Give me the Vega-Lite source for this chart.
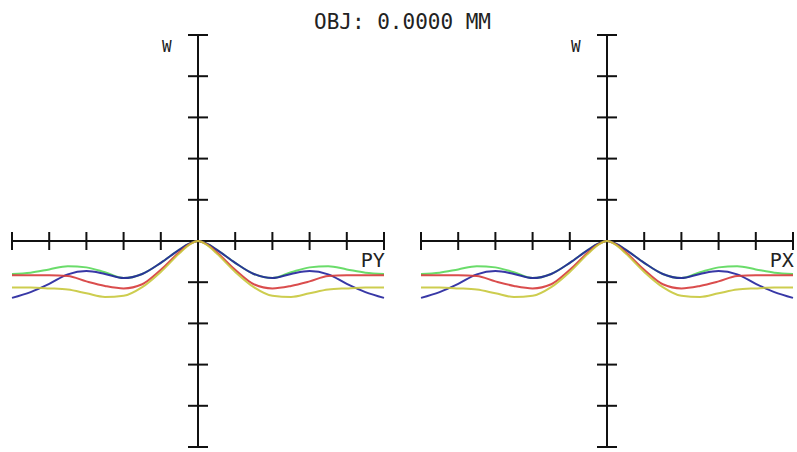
{
  "$schema": "https://vega.github.io/schema/vega-lite/v6.json",
  "autosize": {"type": "pad"},
  "padding": {"left": 8, "top": 12, "right": 0, "bottom": 0},
  "background": "white",
  "title": {"text": "OBJ: 0.0000 MM", "font": "DejaVu Sans Mono", "fontSize": 21, "fontWeight": "normal", "color": "#222222", "anchor": "middle", "offset": 1},
  "config": {"view": {"stroke": null}, "concat": {"spacing": 29}},
  "datasets": {
    "fan": [
      {"p": -1.0, "w": -0.80, "c": "g"}, {"p": -0.9, "w": -0.77, "c": "g"}, {"p": -0.8, "w": -0.69, "c": "g"}, {"p": -0.7, "w": -0.61, "c": "g"}, {"p": -0.6, "w": -0.64, "c": "g"}, {"p": -0.5, "w": -0.76, "c": "g"}, {"p": -0.4, "w": -0.90, "c": "g"}, {"p": -0.3, "w": -0.80, "c": "g"}, {"p": -0.2, "w": -0.53, "c": "g"}, {"p": -0.1, "w": -0.21, "c": "g"}, {"p": -0.05, "w": -0.07, "c": "g"}, {"p": 0.0, "w": 0.0, "c": "g"}, {"p": 0.05, "w": -0.07, "c": "g"}, {"p": 0.1, "w": -0.21, "c": "g"}, {"p": 0.2, "w": -0.53, "c": "g"}, {"p": 0.3, "w": -0.80, "c": "g"}, {"p": 0.4, "w": -0.90, "c": "g"}, {"p": 0.5, "w": -0.76, "c": "g"}, {"p": 0.6, "w": -0.64, "c": "g"}, {"p": 0.7, "w": -0.61, "c": "g"}, {"p": 0.8, "w": -0.69, "c": "g"}, {"p": 0.9, "w": -0.77, "c": "g"}, {"p": 1.0, "w": -0.80, "c": "g"},
      {"p": -1.0, "w": -1.38, "c": "b"}, {"p": -0.9, "w": -1.24, "c": "b"}, {"p": -0.8, "w": -1.04, "c": "b"}, {"p": -0.7, "w": -0.81, "c": "b"}, {"p": -0.6, "w": -0.73, "c": "b"}, {"p": -0.5, "w": -0.80, "c": "b"}, {"p": -0.4, "w": -0.90, "c": "b"}, {"p": -0.3, "w": -0.80, "c": "b"}, {"p": -0.2, "w": -0.53, "c": "b"}, {"p": -0.1, "w": -0.21, "c": "b"}, {"p": -0.05, "w": -0.07, "c": "b"}, {"p": 0.0, "w": 0.0, "c": "b"}, {"p": 0.05, "w": -0.07, "c": "b"}, {"p": 0.1, "w": -0.21, "c": "b"}, {"p": 0.2, "w": -0.53, "c": "b"}, {"p": 0.3, "w": -0.80, "c": "b"}, {"p": 0.4, "w": -0.90, "c": "b"}, {"p": 0.5, "w": -0.80, "c": "b"}, {"p": 0.6, "w": -0.73, "c": "b"}, {"p": 0.7, "w": -0.81, "c": "b"}, {"p": 0.8, "w": -1.04, "c": "b"}, {"p": 0.9, "w": -1.24, "c": "b"}, {"p": 1.0, "w": -1.38, "c": "b"},
      {"p": -1.0, "w": -0.83, "c": "r"}, {"p": -0.9, "w": -0.83, "c": "r"}, {"p": -0.8, "w": -0.83, "c": "r"}, {"p": -0.7, "w": -0.85, "c": "r"}, {"p": -0.6, "w": -0.98, "c": "r"}, {"p": -0.5, "w": -1.09, "c": "r"}, {"p": -0.4, "w": -1.15, "c": "r"}, {"p": -0.3, "w": -1.05, "c": "r"}, {"p": -0.2, "w": -0.70, "c": "r"}, {"p": -0.1, "w": -0.27, "c": "r"}, {"p": -0.05, "w": -0.09, "c": "r"}, {"p": 0.0, "w": 0.0, "c": "r"}, {"p": 0.05, "w": -0.09, "c": "r"}, {"p": 0.1, "w": -0.27, "c": "r"}, {"p": 0.2, "w": -0.70, "c": "r"}, {"p": 0.3, "w": -1.05, "c": "r"}, {"p": 0.4, "w": -1.15, "c": "r"}, {"p": 0.5, "w": -1.09, "c": "r"}, {"p": 0.6, "w": -0.98, "c": "r"}, {"p": 0.7, "w": -0.85, "c": "r"}, {"p": 0.8, "w": -0.83, "c": "r"}, {"p": 0.9, "w": -0.83, "c": "r"}, {"p": 1.0, "w": -0.83, "c": "r"},
      {"p": -1.0, "w": -1.13, "c": "y"}, {"p": -0.9, "w": -1.13, "c": "y"}, {"p": -0.8, "w": -1.15, "c": "y"}, {"p": -0.7, "w": -1.18, "c": "y"}, {"p": -0.6, "w": -1.27, "c": "y"}, {"p": -0.5, "w": -1.36, "c": "y"}, {"p": -0.4, "w": -1.33, "c": "y"}, {"p": -0.3, "w": -1.12, "c": "y"}, {"p": -0.2, "w": -0.75, "c": "y"}, {"p": -0.1, "w": -0.30, "c": "y"}, {"p": -0.05, "w": -0.10, "c": "y"}, {"p": 0.0, "w": 0.0, "c": "y"}, {"p": 0.05, "w": -0.10, "c": "y"}, {"p": 0.1, "w": -0.30, "c": "y"}, {"p": 0.2, "w": -0.75, "c": "y"}, {"p": 0.3, "w": -1.12, "c": "y"}, {"p": 0.4, "w": -1.33, "c": "y"}, {"p": 0.5, "w": -1.36, "c": "y"}, {"p": 0.6, "w": -1.27, "c": "y"}, {"p": 0.7, "w": -1.18, "c": "y"}, {"p": 0.8, "w": -1.15, "c": "y"}, {"p": 0.9, "w": -1.13, "c": "y"}, {"p": 1.0, "w": -1.13, "c": "y"}
    ],
    "xticks": [
      {"p": -1.0, "w": 0}, {"p": -0.8, "w": 0}, {"p": -0.6, "w": 0}, {"p": -0.4, "w": 0}, {"p": -0.2, "w": 0}, {"p": 0.0, "w": 0}, {"p": 0.2, "w": 0}, {"p": 0.4, "w": 0}, {"p": 0.6, "w": 0}, {"p": 0.8, "w": 0}, {"p": 1.0, "w": 0}
    ],
    "yticks": [
      {"p": 0, "w": -5}, {"p": 0, "w": -4}, {"p": 0, "w": -3}, {"p": 0, "w": -2}, {"p": 0, "w": -1}, {"p": 0, "w": 0}, {"p": 0, "w": 1}, {"p": 0, "w": 2}, {"p": 0, "w": 3}, {"p": 0, "w": 4}, {"p": 0, "w": 5}
    ],
    "axes": [
      {"p": -1, "p2": 1, "w": 0, "w2": 0},
      {"p": 0, "p2": 0, "w": -5, "w2": 5}
    ]
  },
  "hconcat": [
    {
      "width": 372, "height": 412,
      "encoding": {
        "x": {"field": "p", "type": "quantitative", "scale": {"domain": [-1, 1], "nice": false, "zero": false}, "axis": null},
        "y": {"field": "w", "type": "quantitative", "scale": {"domain": [-5, 5], "nice": false, "zero": false}, "axis": null}
      },
      "layer": [
        {"data": {"name": "axes"}, "mark": {"type": "rule", "color": "#111111", "strokeWidth": 2}, "encoding": {"x2": {"field": "p2"}, "y2": {"field": "w2"}}},
        {"data": {"name": "xticks"}, "mark": {"type": "tick", "orient": "vertical", "size": 18, "thickness": 2, "color": "#111111", "opacity": 1}, "encoding": {}},
        {"data": {"name": "yticks"}, "mark": {"type": "tick", "orient": "horizontal", "size": 20, "thickness": 2, "color": "#111111", "opacity": 1}, "encoding": {}},
        {"data": {"name": "fan"}, "mark": {"type": "line", "strokeWidth": 2, "interpolate": "monotone", "strokeOpacity": 0.9}, "encoding": {"color": {"field": "c", "type": "nominal", "scale": {"domain": ["g", "b", "r", "y"], "range": ["#5ad85a", "#22229c", "#d63a3a", "#c8c83c"]}, "legend": null}}},
        {"data": {"values": [{"p": -0.168, "w": 4.72, "t": "W", "s": 16}, {"p": 0.94, "w": -0.485, "t": "PY", "s": 20}]}, "mark": {"type": "text", "font": "DejaVu Sans Mono", "color": "#222222", "align": "center", "baseline": "middle"}, "encoding": {"text": {"field": "t"}, "size": {"field": "s", "type": "quantitative", "scale": null}}}
      ]
    },
    {
      "width": 372, "height": 412,
      "encoding": {
        "x": {"field": "p", "type": "quantitative", "scale": {"domain": [-1, 1], "nice": false, "zero": false}, "axis": null},
        "y": {"field": "w", "type": "quantitative", "scale": {"domain": [-5, 5], "nice": false, "zero": false}, "axis": null}
      },
      "layer": [
        {"data": {"name": "axes"}, "mark": {"type": "rule", "color": "#111111", "strokeWidth": 2}, "encoding": {"x2": {"field": "p2"}, "y2": {"field": "w2"}}},
        {"data": {"name": "xticks"}, "mark": {"type": "tick", "orient": "vertical", "size": 18, "thickness": 2, "color": "#111111", "opacity": 1}, "encoding": {}},
        {"data": {"name": "yticks"}, "mark": {"type": "tick", "orient": "horizontal", "size": 20, "thickness": 2, "color": "#111111", "opacity": 1}, "encoding": {}},
        {"data": {"name": "fan"}, "mark": {"type": "line", "strokeWidth": 2, "interpolate": "monotone", "strokeOpacity": 0.9}, "encoding": {"color": {"field": "c", "type": "nominal", "scale": {"domain": ["g", "b", "r", "y"], "range": ["#5ad85a", "#22229c", "#d63a3a", "#c8c83c"]}, "legend": null}}},
        {"data": {"values": [{"p": -0.168, "w": 4.72, "t": "W", "s": 16}, {"p": 0.94, "w": -0.485, "t": "PX", "s": 20}]}, "mark": {"type": "text", "font": "DejaVu Sans Mono", "color": "#222222", "align": "center", "baseline": "middle"}, "encoding": {"text": {"field": "t"}, "size": {"field": "s", "type": "quantitative", "scale": null}}}
      ]
    }
  ]
}
